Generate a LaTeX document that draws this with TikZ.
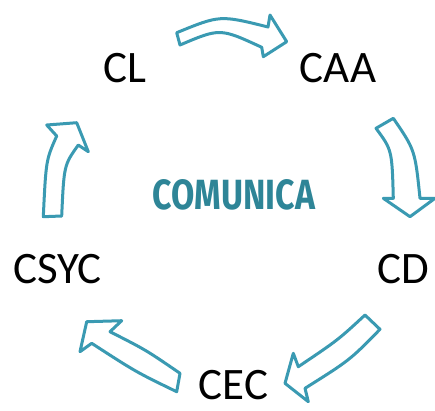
\documentclass[tikz,border=0pt]{standalone}
\usepackage{fontspec}
\setmainfont{Carlito}
\newfontfamily\titlefont{Fira Sans}
\definecolor{arrowteal}{HTML}{3A9AB2}
\definecolor{titleteal}{HTML}{2E8597}
\begin{document}
\begin{tikzpicture}[x=1pt,y=-1pt,
  blockarrow/.style={draw=arrowteal,fill=white,line width=3pt,line join=round},
  label/.style={font=\fontsize{45}{50}\selectfont,text=black,inner sep=0pt,anchor=base}]
\useasboundingbox (0,0) rectangle (435,410);
% labels (base anchors at cap bottom)
\node[label] (cl)   at (124.5,82) {CL};
\node[label] (caa)  at (338,82) {CAA};
\node[label] (csyc) at (57.5,283) {CSYC};
\node[label] (cd)   at (403.5,283) {CD};
\node[label] (cec)  at (233.5,399) {CEC};
\node[inner sep=0pt,text=titleteal] (title) at (234,195)
  {\resizebox{162pt}{30pt}{\titlefont\bfseries COMUNICA}};
% arrow CL -> CAA
\draw[blockarrow] (176.7,32.7) .. controls (220,15) .. (268,27) -- (270,15)
  -- (286.7,41.7) -- (263.3,56.7) -- (261.7,47.3) .. controls (220,28) .. (180,45) -- cycle;
% arrow CAA -> CD
\draw[blockarrow] (376,128.3) -- (393.3,118.3) .. controls (415,150) .. (420,198.3)
  -- (435,198.3) -- (410,216.7) -- (383.3,198.3) -- (393.3,198.3)
  .. controls (392,150) .. cycle;
% arrow CD -> CEC
\draw[blockarrow] (365,315) -- (380,329.3) .. controls (350,360) .. (305,388.3)
  -- (308.3,401.7) -- (285,383.3) -- (293.3,353.3) -- (298.3,366.7)
  .. controls (338,340) .. cycle;
% arrow CEC -> CSYC
\draw[blockarrow] (180,373.3) -- (176.7,391.7) .. controls (136,372) .. (91.7,343.3)
  -- (80,351.7) -- (86.7,321.7) -- (121.7,320.7) -- (110,331.7)
  .. controls (146,350) .. cycle;
% arrow CSYC -> CL
\draw[blockarrow] (43.3,216.7) -- (61.7,216) .. controls (64,165) .. (78.3,145)
  -- (88.3,151.7) -- (76.7,122.7) -- (46.7,125) -- (56.7,136)
  .. controls (46,160) .. cycle;
\end{tikzpicture}
\end{document}
